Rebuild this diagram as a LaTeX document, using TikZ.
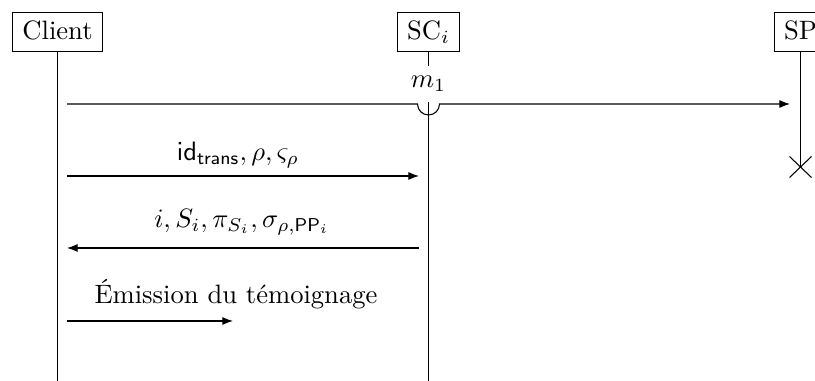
\documentclass[tikz,border=0pt]{standalone}
\usetikzlibrary{arrows.meta}
\begin{document}
\begin{tikzpicture}[x=0.376pt,y=-0.376pt,
  actor/.style={draw,line width=0.4pt,inner xsep=3.6pt,inner ysep=0pt,
    minimum height=15pt,text height=7pt,text depth=1.6pt},
  life/.style={line width=0.4pt},
  msg/.style={line width=0.4pt,-{Latex[length=4pt,width=3pt]}},
  lbl/.style={inner sep=0pt}]
\useasboundingbox (0,0) rectangle (815,381);

% participants
\node[actor] (client) at (57.5,32) {Client};
\node[actor] (sc) at (428.5,32) {SC$_i$};
\node[actor] (sp) at (800.5,32) {SP};

% lifeline ends
\coordinate (clientEnd) at (57.5,381);
\coordinate (scEnd) at (428.5,381);
\coordinate (spEnd) at (800.5,167);
\draw[life] (client.south) -- (clientEnd);
\draw[life] (sc.south) -- (scEnd);
\draw[life] (sp.south) -- (spEnd);

% destruction mark of SP
\draw[life] ([shift={(-11,-10.5)}]spEnd) -- ([shift={(11,10.5)}]spEnd);
\draw[life] ([shift={(-11,10.5)}]spEnd) -- ([shift={(11,-10.5)}]spEnd);

% message m1 with a hop over the SC lifeline
\coordinate (m1s) at (67,104);
\coordinate (hopL) at (417.5,104);
\coordinate (m1e) at (790,104);
\draw[msg] (m1s) -- (hopL) arc[start angle=180,end angle=0,radius=11] -- (m1e);
\node[lbl,fill=white,inner xsep=1pt,minimum height=13.5pt] (m1) at (428.5,84) {$m_1$};

% message 2
\coordinate (a2s) at (67,176);
\coordinate (a2e) at (419,176);
\draw[msg] (a2s) -- (a2e);
\node[lbl] (l2) at (238,155) {$\mathsf{id}_{\mathsf{trans}},\rho,\varsigma_\rho$};

% message 3
\coordinate (a3s) at (419,248);
\coordinate (a3e) at (67,248);
\draw[msg] (a3s) -- (a3e);
\node[lbl] (l3) at (242,222) {$i,S_i,\pi_{S_i},\sigma_{\rho,\mathsf{PP}_i}$};

% message 4
\coordinate (a4s) at (67,321);
\coordinate (a4e) at (233,321);
\draw[msg] (a4s) -- (a4e);
\node[lbl] (l4) at (236,294) {Émission du témoignage};
\end{tikzpicture}
\end{document}
